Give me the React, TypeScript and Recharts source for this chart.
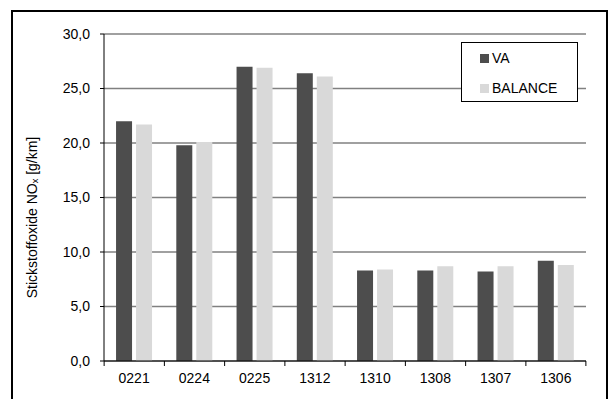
import { Bar, BarChart, CartesianGrid, XAxis, YAxis } from "recharts";

const categories = ["0221", "0224", "0225", "1312", "1310", "1308", "1307", "1306"];
const vaValues = [22.0, 19.8, 27.0, 26.4, 8.3, 8.3, 8.2, 9.2];
const balanceValues = [21.7, 20.1, 26.9, 26.1, 8.4, 8.7, 8.7, 8.8];
const yTicks = [0, 5, 10, 15, 20, 25, 30];

const data = categories.map((name, i) => ({
  name,
  va: vaValues[i],
  balance: balanceValues[i],
}));

const FONT = "'Liberation Sans', Arial, sans-serif";
const DARK = "#4d4d4d";
const LIGHT = "#d9d9d9";

function fmt(v: number) {
  return v.toFixed(1).replace(".", ",");
}

function CategoryTick(props: any) {
  const { x, y, payload, index } = props;
  const half = 30;
  return (
    <g>
      <line x1={x - half} y1={y - 8} x2={x - half} y2={y - 3} stroke="#000" />
      {index === categories.length - 1 && (
        <line x1={x + half} y1={y - 8} x2={x + half} y2={y - 3} stroke="#000" />
      )}
      <text x={x} y={y + 14} textAnchor="middle" fontSize={14} fill="#000" fontFamily={FONT}>
        {payload.value}
      </text>
    </g>
  );
}

function LegendBox() {
  const items = [
    { label: "VA", color: DARK },
    { label: "BALANCE", color: LIGHT },
  ];
  return (
    <div
      style={{
        position: "absolute",
        left: 461,
        top: 42,
        width: 117,
        height: 60,
        border: "1px solid #000",
        background: "#fff",
        fontFamily: FONT,
        fontSize: 14,
        paddingTop: 0,
        boxSizing: "border-box",
      }}
    >
      {items.map((item) => (
        <div key={item.label} style={{ display: "flex", alignItems: "center", height: 30, paddingLeft: 18 }}>
          <span style={{ width: 9, height: 9, background: item.color, marginRight: 3 }} />
          <span>{item.label}</span>
        </div>
      ))}
    </div>
  );
}

export default function App() {
  return (
    <div style={{ position: "fixed", left: 0, top: 0, width: 616, height: 399, background: "#fff" }}>
      <div
        style={{
          position: "absolute",
          left: 11,
          top: 10,
          width: 597,
          height: 400,
          border: "2px solid #000",
          boxSizing: "border-box",
        }}
      />
      <BarChart
        width={616}
        height={399}
        data={data}
        margin={{ top: 34, right: 30, bottom: 8, left: 44 }}
        barCategoryGap="20%"
        barGap={4}
        style={{ position: "absolute", left: 0, top: 0, fontFamily: FONT }}
      >
        <CartesianGrid vertical={false} stroke="#808080" strokeWidth={1.5} />
        <XAxis
          dataKey="name"
          height={30}
          tickLine={false}
          axisLine={{ stroke: "#000" }}
          tick={<CategoryTick />}
          interval={0}
        />
        <XAxis xAxisId="top" orientation="top" dataKey="name" height={0} tick={false} tickLine={false} axisLine={{ stroke: "#000" }} />
        <YAxis
          width={60}
          domain={[0, 30]}
          ticks={yTicks}
          tickFormatter={fmt}
          tick={{ fill: "#000", fontSize: 14, fontFamily: FONT }}
          tickLine={{ stroke: "#000" }}
          tickSize={4}
          tickMargin={10}
          axisLine={{ stroke: "#000" }}
          label={{
            value: "Stickstoffoxide NOₓ [g/km]",
            angle: -90,
            position: "insideLeft",
            dx: -17,
            dy: 20,
            style: { textAnchor: "middle", fontSize: 14, fill: "#000", fontFamily: FONT },
          }}
        />
        <YAxis yAxisId="right" orientation="right" width={0} tick={false} tickLine={false} axisLine={{ stroke: "#000" }} />
        <Bar dataKey="va" name="VA" fill={DARK} isAnimationActive={false} />
        <Bar dataKey="balance" name="BALANCE" fill={LIGHT} isAnimationActive={false} />
      </BarChart>
      <LegendBox />
    </div>
  );
}
